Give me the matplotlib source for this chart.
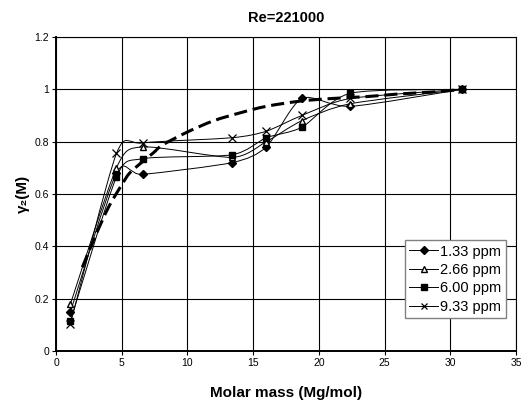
import numpy as np
import matplotlib
matplotlib.use("Agg")
import matplotlib.pyplot as plt
from matplotlib.path import Path
from matplotlib.patches import PathPatch

plt.rcParams['font.family'] = ['Liberation Sans', 'DejaVu Sans']

# Data
molar_mass = [1.1, 4.6, 6.6, 13.4, 16.0, 18.7, 22.4, 30.9]
gamma_133 = [0.15, 0.68, 0.675, 0.72, 0.78, 0.965, 0.935, 1.0]
gamma_266 = [0.18, 0.70, 0.78, 0.74, 0.80, 0.88, 0.945, 1.0]
gamma_600 = [0.115, 0.665, 0.735, 0.75, 0.815, 0.855, 0.985, 1.0]
gamma_933 = [0.105, 0.755, 0.795, 0.815, 0.84, 0.90, 0.965, 1.0]
labels = ["1.33 ppm", "2.66 ppm", "6.00 ppm", "9.33 ppm"]

model_x = [2.0, 3.0, 4.0, 5.0, 5.6, 6.5, 7.4, 8.1, 10, 12, 14, 16, 18.6, 21, 23.6, 26, 28.7, 31]
model_y = [0.32, 0.44, 0.55, 0.635, 0.68, 0.72, 0.757, 0.787, 0.837, 0.88, 0.91,
           0.935, 0.955, 0.965, 0.972, 0.982, 0.99, 1.0]


def smooth_path(xs, ys, k=1 / 8.0):
    # Excel-style smoothed line: Catmull-Rom segments as cubic Beziers
    pts = np.column_stack([xs, ys])
    verts = [pts[0]]
    codes = [Path.MOVETO]
    n = len(pts)
    for i in range(n - 1):
        p0 = pts[max(i - 1, 0)]
        p1 = pts[i]
        p2 = pts[i + 1]
        p3 = pts[min(i + 2, n - 1)]
        c1 = p1 + (p2 - p0) * k
        c2 = p2 - (p3 - p1) * k
        verts += [c1, c2, p2]
        codes += [Path.CURVE4] * 3
    return Path(verts, codes)


fig = plt.figure(figsize=(5.3, 4.07), dpi=100)
ax = fig.add_axes([0.1057, 0.1376, 0.868, 0.7715])

series = [
    (gamma_133, dict(marker='D', markersize=4.5, markerfacecolor='black')),
    (gamma_266, dict(marker='^', markersize=5, markerfacecolor='white')),
    (gamma_600, dict(marker='s', markersize=5, markerfacecolor='black')),
    (gamma_933, dict(marker='x', markersize=5.5, markeredgewidth=0.9)),
]

for (ys, style), lab in zip(series, labels):
    ax.add_patch(PathPatch(smooth_path(molar_mass, ys), facecolor='none',
                           edgecolor='black', lw=0.7, zorder=3))
    ax.plot(molar_mass, ys, linestyle='none', color='black',
            markeredgecolor='black', zorder=4, **style)
    ax.plot([], [], color='black', lw=0.7, label=lab, **style)

ax.add_patch(PathPatch(smooth_path(model_x, model_y, 1 / 6.0), facecolor='none',
                       edgecolor='black', lw=2.2, linestyle=(0, (4.3, 1.9)),
                       zorder=3))

ax.set_xlim(0, 35)
ax.set_ylim(0, 1.2)
ax.set_xticks(range(0, 36, 5))
ax.set_yticks([0, 0.2, 0.4, 0.6, 0.8, 1, 1.2])
ax.set_yticklabels(["0", "0.2", "0.4", "0.6", "0.8", "1", "1.2"])
ax.grid(True, color='black', lw=0.8)
ax.set_axisbelow(True)
for side in ['top', 'right']:
    ax.spines[side].set_linewidth(0.8)
for side in ['left', 'bottom']:
    ax.spines[side].set_linewidth(1.4)
ax.tick_params(direction='out', length=3, width=0.8, labelsize=7.5, pad=2)

ax.set_title("Re=221000", fontsize=10.5, fontweight='bold', pad=11)
ax.set_xlabel("Molar mass (Mg/mol)", fontsize=11, fontweight='bold', labelpad=13)
ax.set_ylabel("γ₂(M)", fontsize=11, fontweight='bold', labelpad=3)

leg = ax.legend(loc='lower right', bbox_to_anchor=(0.978, 0.105), fontsize=10.5,
                handlelength=2.0, handletextpad=0.15, borderpad=0.3,
                labelspacing=0.3, borderaxespad=0, fancybox=False,
                framealpha=1, edgecolor='#808080', markerscale=0.8)
leg.get_frame().set_linewidth(1.0)

fig.savefig("out.png", dpi=100)
